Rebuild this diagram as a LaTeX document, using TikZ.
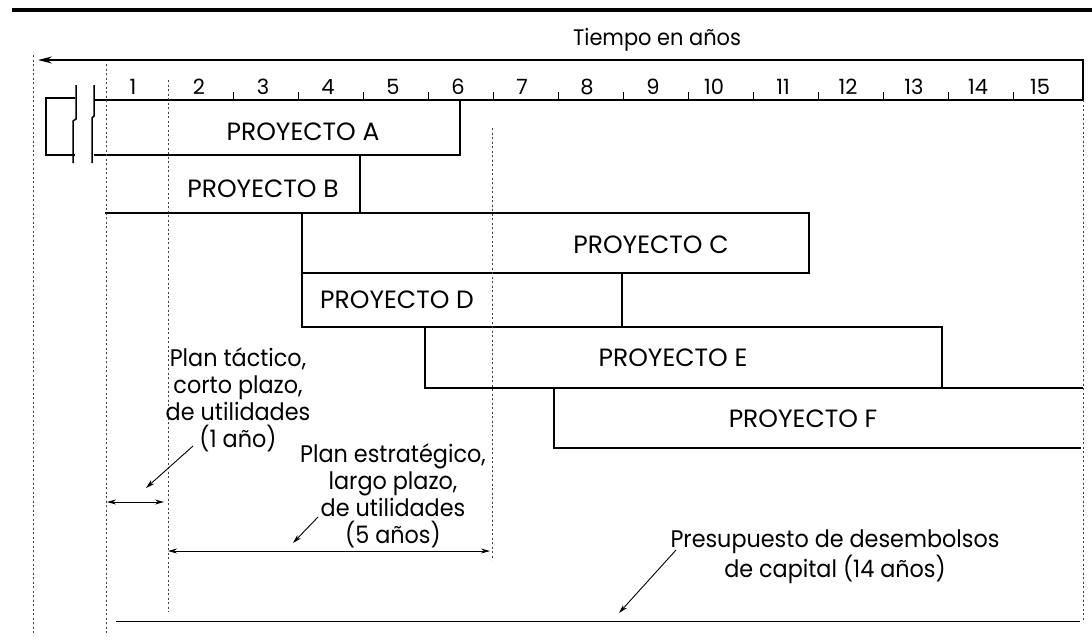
\documentclass[tikz,border=0pt]{standalone}
\usepackage{fontspec}
\setmainfont{Poppins}
\newfontfamily\notefont{Poppins}[FakeStretch=0.93]
\usetikzlibrary{arrows.meta}
\begin{document}
\begin{tikzpicture}[x=1pt,y=-1pt,
  box/.style={line width=1.5pt},
  guide/.style={line width=0.7pt, dash pattern=on 2pt off 2.5pt, black!75},
  lbl/.style={font=\fontsize{25}{26.7}\selectfont, inner sep=0pt, anchor=base},
  num/.style={font=\fontsize{21}{22}\selectfont, inner sep=0pt, anchor=base},
  note/.style={font=\notefont\fontsize{24}{26.7}\selectfont, inner sep=0pt, align=center, anchor=base},
  ptr/.style={line width=0.9pt, -{Stealth[length=9pt,width=5pt]}},
  dim/.style={line width=0.9pt, {Stealth[length=9pt,width=5pt]}-{Stealth[length=9pt,width=5pt]}},
]
\useasboundingbox (0,0) rectangle (1092,641);
% top rule
\draw[line width=3.5pt] (12,10) -- (1092,10);
% time axis box
\coordinate (axL) at (38,60);
\coordinate (axR) at (1083,60);
\coordinate (axBR) at (1083,100);
\coordinate (axBL) at (94,100);
\draw[box, {Stealth[length=14pt,width=7pt]}-] (axL) -- (axR) -- (axBR) -- (axBL);
\foreach \k in {2,...,14} \draw[line width=1pt] ({103+65*\k},92) -- ({103+65*\k},100);
\foreach \k/\xx in {1/133,2/199,3/263,4/328,5/393,6/458,7/522,8/587,9/653,10/714,11/783,12/848,13/914,14/978,15/1040}
  \node[num] (n\k) at (\xx,94) {\k};
\node[note, font=\notefont\fontsize{22.5}{24}\selectfont] (tiempo) at (657,45) {Tiempo en años};
% break symbol
\draw[box] (75,98) -- (46,98) -- (46,155) -- (75,155);
\draw[box] (76,85) -- (76,119) -- (73,121) -- (73,163);
\draw[box] (94,85) -- (94,116) -- (92,118) -- (92,163);
% project boxes
\draw[box] (460,100) -- (460,155) -- (94,155);
\draw[box] (360,155) -- (360,213);
\draw[box] (105,213) -- (809,213) -- (809,273) -- (302,273);
\draw[box] (302,213) -- (302,327) -- (942,327) -- (942,388);
\draw[box] (622,273) -- (622,327);
\draw[box] (425,327) -- (425,388) -- (1083,388);
\draw[box] (554,388) -- (554,448) -- (1081,448);
\draw[line width=1pt] (116,621) -- (1080,621);
% guides
\draw[guide] (33,55) -- (33,635);
\draw[guide] (106,64) -- (106,635);
\draw[guide] (168,80) -- (168,612);
\draw[guide] (492,128) -- (492,560);
\draw[guide] (1083,100) -- (1083,620);
% labels
\node[lbl] (pA) at (303,140) {PROYECTO A};
\node[lbl] (pB) at (263,197) {PROYECTO B};
\node[lbl] (pC) at (651,253) {PROYECTO C};
\node[lbl] (pD) at (397,308) {PROYECTO D};
\node[lbl] (pE) at (673,366) {PROYECTO E};
\node[lbl] (pF) at (803,427) {PROYECTO F};
% notes (base anchor = baseline of last line)
\node[note] (tact) at (238,447) {Plan táctico,\\corto plazo,\\de utilidades\\(1 año)};
\node[note] (estr) at (393,543) {Plan estratégico,\\largo plazo,\\de utilidades\\(5 años)};
\node[note] (pres) at (835,577) {Presupuesto de desembolsos\\de capital (14 años)};
% pointers and spans
\coordinate (t1) at (193,446); \coordinate (t2) at (146,488);
\coordinate (s1) at (107,502); \coordinate (s2) at (164,502);
\coordinate (e1) at (318,517); \coordinate (e2) at (293,543);
\coordinate (l1) at (168,551); \coordinate (l2) at (490,551);
\coordinate (c1) at (676,550); \coordinate (c2) at (619,613);
\draw[ptr] (t1) -- (t2);
\draw[dim] (s1) -- (s2);
\draw[ptr] (e1) -- (e2);
\draw[dim] (l1) -- (l2);
\draw[ptr] (c1) -- (c2);
\end{tikzpicture}
\end{document}
